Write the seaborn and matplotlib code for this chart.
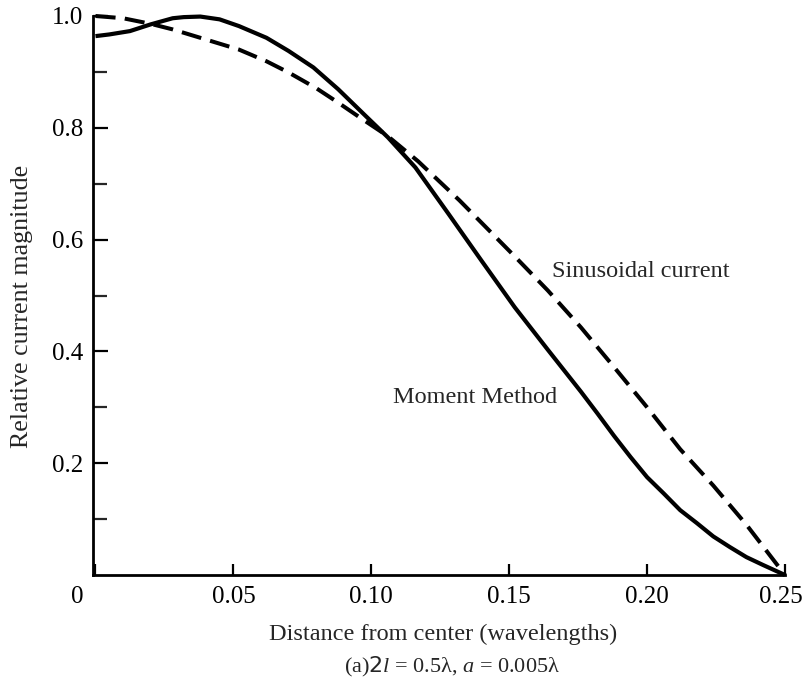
import numpy as np
import pandas as pd
import matplotlib
matplotlib.use("Agg")
import matplotlib.pyplot as plt
from matplotlib.transforms import ScaledTranslation
import seaborn as sns

# ---- data ----
moment_x = [0.000, 0.005, 0.0125, 0.020, 0.028, 0.032, 0.038, 0.045, 0.052, 0.062,
            0.070, 0.079, 0.088, 0.098, 0.106, 0.116, 0.128, 0.140, 0.152,
            0.164, 0.176, 0.182, 0.188, 0.194, 0.200, 0.206, 0.212, 0.218,
            0.224, 0.230, 0.236, 0.242, 0.250]
moment_y = [0.964, 0.967, 0.973, 0.985, 0.996, 0.998, 0.999, 0.994, 0.982, 0.961,
            0.9375, 0.908, 0.869, 0.821, 0.783, 0.729, 0.646, 0.562, 0.479,
            0.403, 0.328, 0.289, 0.249, 0.211, 0.175, 0.146, 0.116, 0.093,
            0.069, 0.050, 0.032, 0.018, 0.000]

sin_x = [0.000, 0.010, 0.020, 0.028, 0.040, 0.052, 0.062, 0.070, 0.080, 0.088,
         0.096, 0.106, 0.117, 0.132, 0.152, 0.164, 0.176, 0.188, 0.200,
         0.212, 0.224, 0.236, 0.250]
sin_y = [1.000, 0.996, 0.986, 0.976, 0.958, 0.940, 0.919, 0.899, 0.871, 0.845,
         0.818, 0.785, 0.740, 0.670, 0.570, 0.509, 0.443, 0.372, 0.300,
         0.225, 0.160, 0.090, 0.000]

x_ticks = [0, 0.05, 0.10, 0.15, 0.20, 0.25]
x_tick_labels = ["0", "0.05", "0.10", "0.15", "0.20", "0.25"]
y_ticks = [0.2, 0.4, 0.6, 0.8, 1.0]
y_tick_labels = ["0.2", "0.4", "0.6", "0.8", "1.0"]
y_minor_ticks = [0.1, 0.3, 0.5, 0.7, 0.9]

sns.set_style("ticks")
plt.rcParams['font.family'] = ['Liberation Serif', 'DejaVu Serif']
plt.rcParams['mathtext.fontset'] = 'custom'
plt.rcParams['mathtext.rm'] = 'Liberation Serif'
plt.rcParams['mathtext.it'] = 'Liberation Serif:italic'
plt.rcParams['mathtext.sf'] = 'DejaVu Sans'

fig = plt.figure(figsize=(8.05, 6.78), dpi=100)
ax = fig.add_axes([93 / 805, 103 / 678, 692 / 805, 559 / 678])

df_m = pd.DataFrame({"x": moment_x, "y": moment_y})
df_s = pd.DataFrame({"x": sin_x, "y": sin_y})

sns.lineplot(data=df_m, x="x", y="y", ax=ax, color="black", linewidth=3.0,
             clip_on=False, estimator=None, sort=False)
sns.lineplot(data=df_s, x="x", y="y", ax=ax, color="black", linewidth=2.9,
             clip_on=False, estimator=None, sort=False)
ax.lines[-1].set_dashes((5.0, 2.3))
for ln in ax.lines:
    ln.set_solid_capstyle("butt")
    ln.set_dash_capstyle("butt")
    ln.set_solid_joinstyle("round")

ax.set_xlim(-0.0009, 0.25)
ax.set_ylim(0, 1.0)
ax.set_xticks(x_ticks)
ax.set_xticklabels(x_tick_labels)
ax.set_yticks(y_ticks)
ax.set_yticklabels(y_tick_labels)
ax.set_yticks(y_minor_ticks, minor=True)

for s in ["top", "right"]:
    ax.spines[s].set_visible(False)
for s in ["left", "bottom"]:
    ax.spines[s].set_linewidth(2.0)
    ax.spines[s].set_color("black")

ax.tick_params(axis="y", which="major", direction="in", length=11, width=1.6,
               labelsize=18, pad=7, colors="black")
ax.tick_params(axis="y", which="minor", direction="in", length=10, width=1.6)
ax.tick_params(axis="x", which="major", direction="in", length=8, width=1.6,
               labelsize=18, pad=8, colors="black")

ax.set_xlabel("")
ax.set_ylabel("")

# shift the "0" label left and the "0.25" label slightly left, as in the original
labs = ax.get_xticklabels()
labs[0].set_transform(labs[0].get_transform() + ScaledTranslation(-18 / 100, 0, fig.dpi_scale_trans))
labs[-1].set_transform(labs[-1].get_transform() + ScaledTranslation(-4 / 100, 0, fig.dpi_scale_trans))

fig.text(443.5 / 805, 1 - 640 / 678, "Distance from center (wavelengths)",
         ha="center", va="baseline", fontsize=17.5)
fig.text(452 / 805, 1 - 672.5 / 678,
         r"(a)$\mathsf{2}\mathit{l}$ = 0.5λ, $\mathit{a}$ = 0.005λ",
         ha="center", va="baseline", fontsize=16)
fig.text(22 / 805, 1 - 306 / 678, "Relative current magnitude", rotation=90,
         ha="center", va="center", fontsize=18.7)
fig.text(552 / 805, 1 - 277 / 678, "Sinusoidal current", ha="left",
         va="baseline", fontsize=17.5)
fig.text(393 / 805, 1 - 403 / 678, "Moment Method", ha="left",
         va="baseline", fontsize=17.5)

fig.savefig("out.png", dpi=100)
